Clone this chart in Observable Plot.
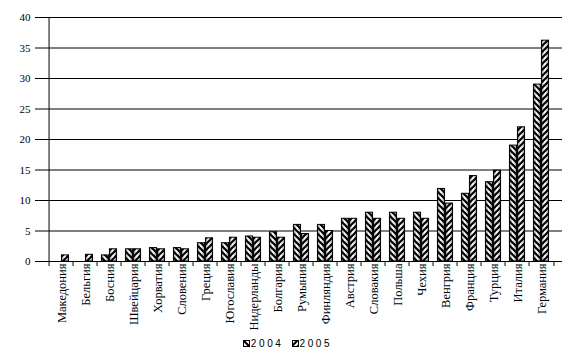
<!DOCTYPE html>
<html>
<head>
<meta charset="utf-8">
<script src="https://cdn.jsdelivr.net/npm/d3@7"></script>
<script src="https://cdn.jsdelivr.net/npm/@observablehq/plot@0.6"></script>
<style>
  html, body { margin: 0; padding: 0; background: #fff; }
  #chart { width: 575px; height: 356px; position: relative; }
  #legend { height: 26px; display: flex; justify-content: center; align-items: center; gap: 8px;
            font-family: "Liberation Sans", Arial, sans-serif; font-size: 10px; letter-spacing: 2.6px; color: #000; }
  #legend .item { display: flex; align-items: center; }
  #legend svg { margin-right: 1px; }
</style>
</head>
<body>
<svg width="0" height="0" style="position:absolute">
  <defs>
    <linearGradient id="cyl" x1="0" y1="0" x2="1" y2="0">
      <stop offset="0" stop-color="#8c8c8c"/>
      <stop offset="0.45" stop-color="#ffffff"/>
      <stop offset="0.6" stop-color="#f4f4f4"/>
      <stop offset="1" stop-color="#8a8a8a"/>
    </linearGradient>
    <pattern id="hatchBack" patternUnits="userSpaceOnUse" width="6" height="6">
      <path d="M-3,3 L3,9 M0,0 L6,6 M3,-3 L9,3" stroke="#000" stroke-width="2.1"/>
    </pattern>
    <pattern id="hatchFwd" patternUnits="userSpaceOnUse" width="6" height="6">
      <path d="M-3,3 L3,-3 M0,6 L6,0 M3,9 L9,3" stroke="#000" stroke-width="2.1"/>
    </pattern>
  </defs>
</svg>
<div id="chart"></div>
<script>
const countries = ["Македония","Бельгия","Босния","Швейцария","Хорватия","Словения","Греция","Югославия","Нидерланды","Болгария","Румыния","Финляндия","Австрия","Словакия","Польша","Чехия","Венгрия","Франция","Турция","Италия","Германия"];
const values2004 = [0, 0, 1, 2, 2.2, 2.2, 3, 3, 4.1, 4.8, 6, 6, 7, 8, 8, 8, 11.9, 11.1, 13, 19, 29];
const values2005 = [1, 1.1, 2, 2, 2, 2, 3.8, 3.9, 3.9, 3.9, 4.5, 5, 7, 7, 7, 7, 9.5, 14, 14.9, 22, 36.2];
const yTicks = [0, 5, 10, 15, 20, 25, 30, 35, 40];
const seriesNames = ["2004", "2005"];

const W = 575, H = 330, ML = 39, MR = 13, MT = 17, MB = 69;
const bw = (W - ML - MR) / countries.length;
const barW = 8;

const d2004 = countries.map((c, i) => ({country: c, value: values2004[i]})).filter(d => d.value > 0);
const d2005 = countries.map((c, i) => ({country: c, value: values2005[i]})).filter(d => d.value > 0);

const barLayers = (data, insetLeft, insetRight, hatch) => [
  Plot.barY(data, {x: "country", y: "value", insetLeft, insetRight, fill: "url(#cyl)"}),
  Plot.barY(data, {x: "country", y: "value", insetLeft, insetRight, fill: `url(#${hatch})`, stroke: "#000", strokeWidth: 1})
];

const chart = Plot.plot({
  width: W, height: H,
  marginLeft: ML, marginRight: MR, marginTop: MT, marginBottom: MB,
  style: {background: "#fff", color: "#000", fontFamily: "'Liberation Serif', 'Times New Roman', serif", fontSize: "10px"},
  x: {type: "band", domain: countries, padding: 0},
  y: {domain: [0, 40]},
  marks: [
    Plot.ruleY(yTicks, {stroke: "#000", strokeWidth: 1}),
    ...barLayers(d2004, bw / 2 - barW, bw / 2, "hatchBack"),
    ...barLayers(d2005, bw / 2, bw / 2 - barW, "hatchFwd"),
    Plot.ruleX([countries[0]], {x: d => d, dx: -bw / 2, y1: 0, y2: 40, stroke: "#000"}),
    Plot.axisY({ticks: yTicks, tickSize: 4, tickPadding: 5, label: null, fontSize: 11}),
    Plot.axisX({tickSize: 5, tickFormat: () => "", dx: -bw / 2, label: null}),
    Plot.axisX({ticks: [countries[countries.length - 1]], tickSize: 5, tickFormat: () => "", dx: bw / 2, label: null}),
    Plot.axisX({tickSize: 0, tickPadding: 2, tickRotate: -90, label: null, fontSize: 12.5})
  ]
});
document.getElementById("chart").appendChild(chart);

const legend = document.createElement("div");
legend.id = "legend";
const hatches = ["hatchBack", "hatchFwd"];
seriesNames.forEach((name, i) => {
  const item = document.createElement("div");
  item.className = "item";
  item.innerHTML = `<svg width="7" height="7"><rect x="0.5" y="0.5" width="6" height="6" fill="#fff" stroke="#000"/><rect x="0.5" y="0.5" width="6" height="6" fill="url(#${hatches[i]})" stroke="#000"/></svg><span>${name}</span>`;
  legend.appendChild(item);
});
document.getElementById("chart").appendChild(legend);
</script>
</body>
</html>
